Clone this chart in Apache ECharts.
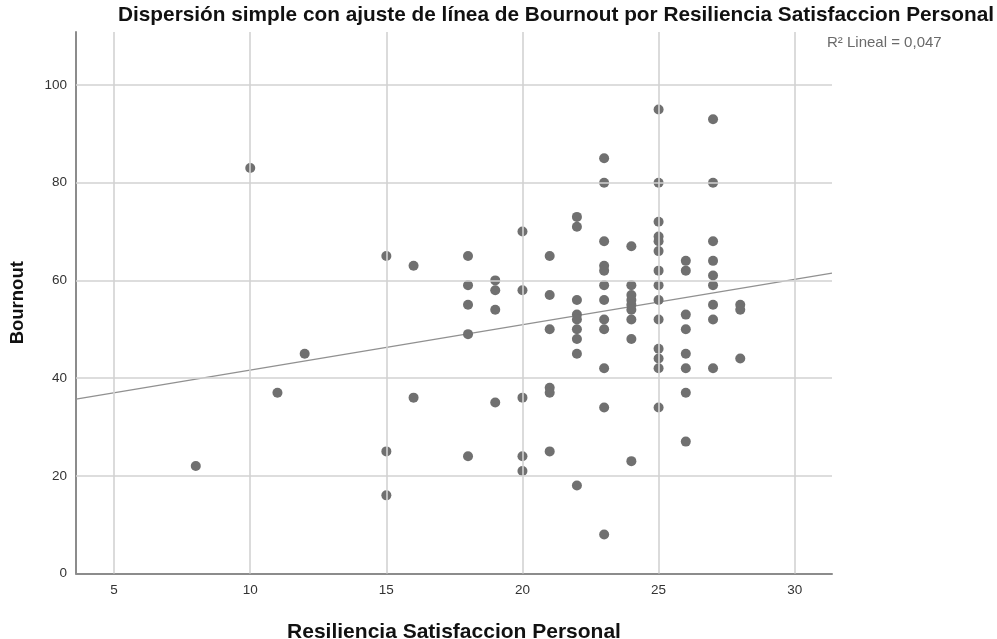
<!DOCTYPE html>
<html>
<head>
<meta charset="utf-8">
<script src="https://cdn.jsdelivr.net/npm/echarts@6/dist/echarts.min.js"></script>
<style>html,body{margin:0;padding:0;background:#fff}#c{width:997px;height:639px}</style>
</head>
<body>
<div id="c"></div>
<script>
const titleText = 'Dispersión simple con ajuste de línea de Bournout por Resiliencia Satisfaccion Personal';
const xName = 'Resiliencia Satisfaccion Personal';
const yName = 'Bournout';
const fitLabel = 'R² Lineal = 0,047';

const xs = [8, 10, 11, 12,
  15, 15, 15,
  16, 16,
  18, 18, 18, 18, 18,
  19, 19, 19, 19,
  20, 20, 20, 20, 20,
  21, 21, 21, 21, 21, 21,
  22, 22, 22, 22, 22, 22, 22, 22, 22,
  23, 23, 23, 23, 23, 23, 23, 23, 23, 23, 23, 23,
  24, 24, 24, 24, 24, 24, 24, 24, 24,
  25, 25, 25, 25, 25, 25, 25, 25, 25, 25, 25, 25, 25, 25,
  26, 26, 26, 26, 26, 26, 26, 26,
  27, 27, 27, 27, 27, 27, 27, 27, 27,
  28, 28, 28];
const ys = [22, 83, 37, 45,
  65, 25, 16,
  63, 36,
  65, 59, 55, 49, 24,
  60, 58, 54, 35,
  70, 58, 36, 24, 21,
  65, 57, 50, 38, 37, 25,
  73, 71, 56, 53, 52, 50, 48, 45, 18,
  85, 80, 68, 63, 62, 59, 56, 52, 50, 42, 34, 8,
  67, 59, 57, 56, 55, 54, 52, 48, 23,
  95, 80, 72, 69, 68, 66, 62, 59, 56, 52, 46, 44, 42, 34,
  64, 62, 53, 50, 45, 42, 37, 27,
  93, 80, 68, 64, 61, 59, 55, 52, 42,
  55, 54, 44];
const xTicks = [5, 10, 15, 20, 25, 30];
const yTicks = [0, 20, 40, 60, 80, 100];
const xRange = [3.6, 31.37];
const yRange = [0, 110.85];
// fitted line (end points at the plot edges)
const fitX = [3.6, 31.37];
const fitY = [35.7, 61.5];

const points = xs.map((x, i) => [x, ys[i]]);
const fitData = fitX.map((x, i) => [x, fitY[i]]);

const FONT = 'Liberation Sans, Arial, sans-serif';
const chart = echarts.init(document.getElementById('c'));
chart.setOption({
  animation: false,
  backgroundColor: '#ffffff',
  title: {
    text: titleText,
    left: 113, top: 0,
    textStyle: { fontFamily: FONT, fontWeight: 'bold', fontSize: 20.8, color: '#111' }
  },
  grid: { left: 76, right: 165, top: 32, bottom: 65.5, containLabel: false, outerBoundsMode: 'none' },
  xAxis: {
    type: 'value', min: xRange[0], max: xRange[1],
    name: xName, nameLocation: 'middle', nameGap: 48.5,
    nameTextStyle: { fontFamily: FONT, fontWeight: 'bold', fontSize: 21, color: '#111' },
    axisLine: { show: true, onZero: false, lineStyle: { color: '#8c8c8c', width: 2 } },
    axisTick: { show: false },
    axisLabel: {
      fontFamily: FONT, fontSize: 13.5, color: '#333', margin: 10,
      customValues: xTicks
    },
    splitLine: { show: false }
  },
  yAxis: {
    type: 'value', min: yRange[0], max: yRange[1],
    name: yName, nameLocation: 'middle', nameGap: 49,
    nameTextStyle: { fontFamily: FONT, fontWeight: 'bold', fontSize: 18.5, color: '#111' },
    axisLine: { show: true, onZero: false, lineStyle: { color: '#8c8c8c', width: 2 } },
    axisTick: { show: false },
    axisLabel: {
      fontFamily: FONT, fontSize: 13.5, color: '#333', margin: 9,
      customValues: yTicks
    },
    splitLine: { show: false }
  },
  series: [
    {
      type: 'line', data: [], silent: true,
      markLine: {
        silent: true, symbol: 'none', label: { show: false },
        lineStyle: { color: '#d2d2d2', width: 1.6, type: 'solid' },
        data: xTicks.map(v => ({ xAxis: v })).concat(yTicks.filter(v => v > 0).map(v => ({ yAxis: v })))
      }
    },
    {
      type: 'line', data: fitData, showSymbol: false, symbol: 'none',
      lineStyle: { color: '#919191', width: 1.2 }, z: 3
    },
    {
      type: 'scatter', data: points, symbolSize: 10,
      itemStyle: { color: '#707070', opacity: 1 }, z: 4
    }
  ],
  graphic: [{
    type: 'text', left: 827, top: 35,
    style: { text: fitLabel, fontFamily: FONT, fontSize: 15, fill: '#6a6a6a' }
  }]
});
</script>
</body>
</html>
